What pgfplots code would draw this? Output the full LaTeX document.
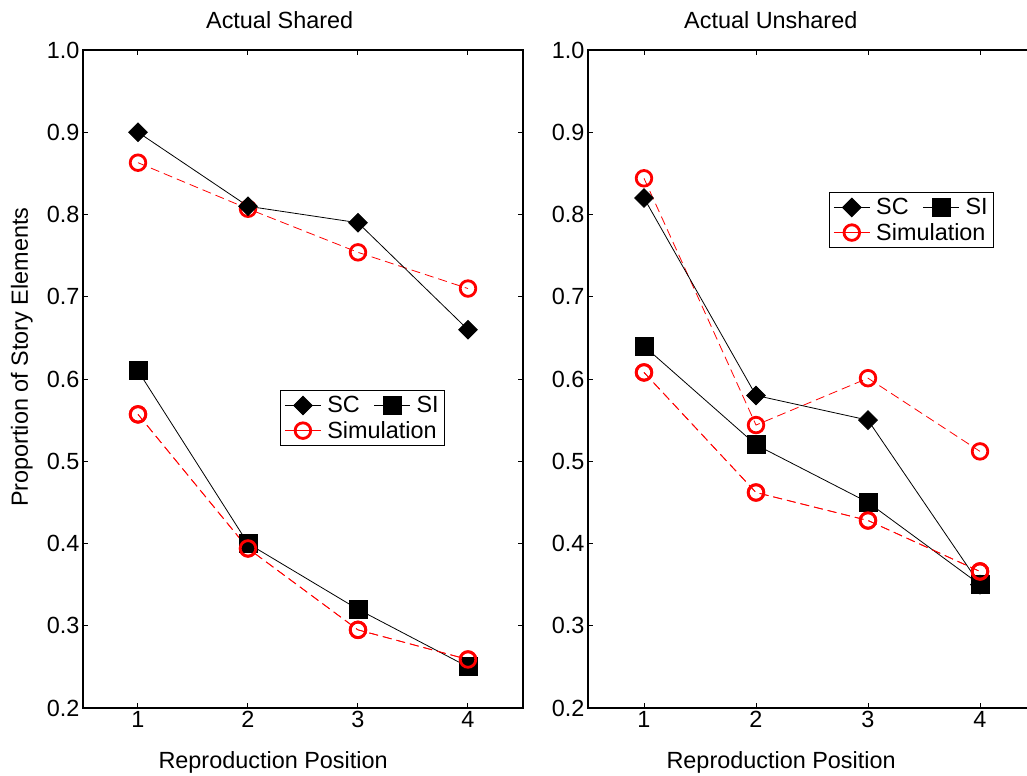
\documentclass[border=0pt]{standalone}
\usepackage{pgfplots}
\pgfplotsset{compat=1.18}
\usepackage{fontspec}
\setmainfont{Liberation Sans}
\definecolor{simred}{RGB}{255,0,0}
\pgfplotsset{
  panel/.style={
    scale only axis,
    anchor=south west,
    height=658bp,
    xmin=0.5, xmax=4.5,
    ymin=0.2, ymax=1.0,
    xtick={1,2,3,4},
    ytick={0.2,0.3,0.4,0.5,0.6,0.7,0.8,0.9,1.0},
    tick align=inside,
    tick pos=both,
    major tick length=5bp,
    axis line style={line width=1.1bp},
    every tick/.style={black, line width=1bp},
    font=\fontsize{23.5}{28}\selectfont,
    /pgf/number format/assume math mode=true,
    yticklabel style={/pgf/number format/.cd, fixed, fixed zerofill, precision=1},
    xticklabel style={/pgf/number format/.cd, fixed, precision=0},
    legend cell align=left,
    legend columns=2,
    legend style={draw=black, line width=0.8bp, fill=white, inner sep=4bp,
      font=\fontsize{23.5}{28}\selectfont, row sep=3bp,
      /tikz/every odd column/.append style={column sep=4bp},
      /tikz/every even column/.append style={column sep=12bp}},
    legend image code/.code={\draw[mark repeat=2,mark phase=2] plot coordinates {(0bp,0bp)(18bp,0bp)(36bp,0bp)};},
  },
  scline/.style={black, line width=0.8bp, mark=square*, mark size=6.6bp, mark options={rotate=45, solid, fill=black}},
  siline/.style={black, line width=0.8bp, mark=square*, mark size=9bp, mark options={solid, fill=black}},
  simline/.style={simred, line width=0.8bp, dash pattern=on 9bp off 5bp, mark=o, mark size=7.8bp, mark options={solid, line width=2.8bp, fill=white, draw=simred}},
}
\begin{document}
\begin{tikzpicture}
\begin{axis}[panel,
  at={(83bp,-708bp)}, width=440bp,
  title={Actual Shared},
  title style={at={(rel axis cs:0.447,1.037)}, anchor=center},
  xlabel={Reproduction Position},
  xlabel style={at={(rel axis cs:0.432,-0.083)}, anchor=center},
  ylabel={Proportion of Story Elements},
  ylabel style={at={(rel axis cs:-0.139,0.533)}, anchor=center},
  legend style={at={(rel axis cs:0.448,0.483)}, anchor=north west},
]
\addplot[simline, forget plot] coordinates {(1,0.863) (2,0.807) (3,0.754) (4,0.710)};
\addplot[simline, forget plot] coordinates {(1,0.557) (2,0.394) (3,0.295) (4,0.259)};
\addplot[scline] coordinates {(1,0.90) (2,0.81) (3,0.79) (4,0.66)};
\addlegendentry{SC}
\addplot[siline] coordinates {(1,0.61) (2,0.40) (3,0.32) (4,0.25)};
\addlegendentry{SI}
\addplot[simline, forget plot] coordinates {(1,0.557) (2,0.394) (3,0.295) (4,0.259)};
\addlegendimage{simline, solid}
\addlegendentry{\makebox[0pt][l]{Simulation}}
\end{axis}
\begin{axis}[panel,
  at={(588bp,-708bp)}, width=448bp,
  title={Actual Unshared},
  title style={at={(rel axis cs:0.408,1.037)}, anchor=center},
  xlabel={Reproduction Position},
  xlabel style={at={(rel axis cs:0.431,-0.083)}, anchor=center},
  legend style={at={(rel axis cs:0.538,0.784)}, anchor=north west},
]
\addplot[simline, forget plot] coordinates {(1,0.844) (2,0.544) (3,0.601) (4,0.512)};
\addplot[simline, forget plot] coordinates {(1,0.608) (2,0.462) (3,0.428) (4,0.366)};
\addplot[scline] coordinates {(1,0.82) (2,0.58) (3,0.55) (4,0.35)};
\addlegendentry{SC}
\addplot[siline] coordinates {(1,0.64) (2,0.52) (3,0.45) (4,0.35)};
\addlegendentry{SI}
\addplot[simline, forget plot] coordinates {(1,0.608) (2,0.462) (3,0.428) (4,0.366)};
\addplot[simline, forget plot] coordinates {(4,0.366)};
\addlegendimage{simline, solid}
\addlegendentry{\makebox[0pt][l]{Simulation}}
\end{axis}
\pgfresetboundingbox
\path[use as bounding box] (0bp,0bp) rectangle (1027bp,-776bp);
\end{tikzpicture}
\end{document}
